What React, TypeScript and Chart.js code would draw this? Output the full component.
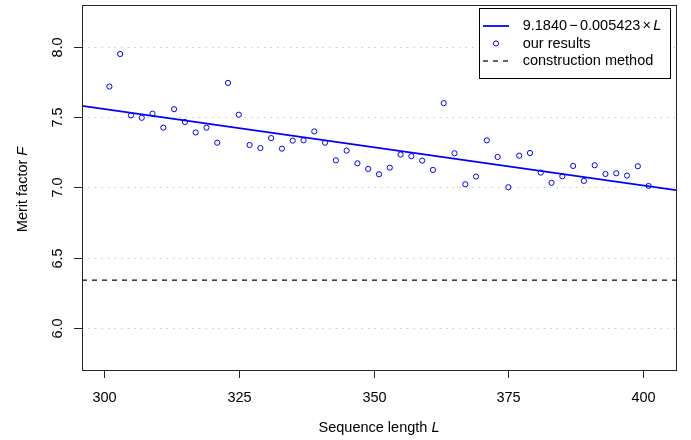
import React, { useEffect, useRef } from "react";
import { Chart, registerables } from "chart.js";

Chart.register(...registerables);

// ---- data ----
const lengths = [
  301, 303, 305, 307, 309, 311, 313, 315, 317, 319, 321, 323, 325, 327, 329, 331, 333,
  335, 337, 339, 341, 343, 345, 347, 349, 351, 353, 355, 357, 359, 361, 363, 365, 367,
  369, 371, 373, 375, 377, 379, 381, 383, 385, 387, 389, 391, 393, 395, 397, 399, 401,
];
const meritFactors = [
  7.717, 7.948, 7.512, 7.495, 7.524, 7.425, 7.556, 7.465, 7.391, 7.425, 7.318, 7.743, 7.517,
  7.302, 7.28, 7.351, 7.276, 7.333, 7.335, 7.398, 7.318, 7.193, 7.262, 7.172, 7.132, 7.094,
  7.141, 7.234, 7.222, 7.191, 7.125, 7.599, 7.243, 7.023, 7.078, 7.335, 7.217, 7.002, 7.226,
  7.245, 7.106, 7.033, 7.08, 7.153, 7.047, 7.158, 7.096, 7.101, 7.085, 7.151, 7.011,
];
const fitIntercept = 9.184;
const fitSlope = -0.005423;
const constructionMerit = 6.3421;
const xTicks = [300, 325, 350, 375, 400];
const yTicks = [6.0, 6.5, 7.0, 7.5, 8.0];
const xLimits = [295.92, 406.08];
const yLimits = [5.704, 8.296];

const legendFit = ["9.1840", "\u2212", "0.005423", "\u00d7", "L"];
const legendPoints = "our results";
const legendConstruction = "construction method";
const xTitle = ["Sequence length ", "L"];
const yTitle = ["Merit factor ", "F"];

const FONT_FAMILY = '"Liberation Sans", Arial, Helvetica, sans-serif';
const FS = 14.5;
const BLUE = "#0000ff";

const decorPlugin = {
  id: "rDecor",
  beforeDatasetsDraw(chart: any) {
    const { ctx, chartArea, scales } = chart;
    const y = scales.y;
    ctx.save();
    ctx.strokeStyle = "#c8c8c8";
    ctx.lineWidth = 1;
    ctx.setLineDash([1.5, 5]);
    for (const t of yTicks) {
      const py = Math.round(y.getPixelForValue(t)) + 0.5;
      ctx.beginPath();
      ctx.moveTo(chartArea.left, py);
      ctx.lineTo(chartArea.right, py);
      ctx.stroke();
    }
    ctx.restore();
  },
  afterDraw(chart: any) {
    const { ctx, chartArea, scales } = chart;
    const x = scales.x;
    const y = scales.y;
    const { left, right, top, bottom } = chartArea;
    ctx.save();
    // box
    ctx.strokeStyle = "#262626";
    ctx.lineWidth = 1;
    ctx.setLineDash([]);
    ctx.strokeRect(left + 0.5, top + 0.5, right - left, bottom - top);

    ctx.fillStyle = "#000";
    ctx.font = `${FS}px ${FONT_FAMILY}`;
    // x ticks
    ctx.textAlign = "center";
    ctx.textBaseline = "alphabetic";
    for (const t of xTicks) {
      const px = Math.round(x.getPixelForValue(t)) + 0.5;
      ctx.beginPath();
      ctx.moveTo(px, bottom);
      ctx.lineTo(px, bottom + 8);
      ctx.stroke();
      ctx.fillText(String(t), px, bottom + 31.5);
    }
    // y ticks
    for (const t of yTicks) {
      const py = Math.round(y.getPixelForValue(t)) + 0.5;
      ctx.beginPath();
      ctx.moveTo(left - 8, py);
      ctx.lineTo(left, py);
      ctx.stroke();
      ctx.save();
      ctx.translate(left - 20, py);
      ctx.rotate(-Math.PI / 2);
      ctx.textAlign = "center";
      ctx.fillText(t.toFixed(1), 0, 0);
      ctx.restore();
    }

    const drawMixed = (parts: string[], italicIdx: number[], cx: number, cy: number, rot: boolean) => {
      ctx.save();
      ctx.translate(cx, cy);
      if (rot) ctx.rotate(-Math.PI / 2);
      const fonts = parts.map((_, i) =>
        italicIdx.includes(i) ? `italic ${FS}px ${FONT_FAMILY}` : `${FS}px ${FONT_FAMILY}`
      );
      let total = 0;
      const widths = parts.map((p, i) => {
        ctx.font = fonts[i];
        const w = ctx.measureText(p).width;
        total += w;
        return w;
      });
      let sx = -total / 2;
      ctx.textAlign = "left";
      ctx.textBaseline = "alphabetic";
      parts.forEach((p, i) => {
        ctx.font = fonts[i];
        ctx.fillText(p, sx, 0);
        sx += widths[i];
      });
      ctx.restore();
    };
    const cxPlot = (left + right) / 2;
    const cyPlot = (top + bottom) / 2;
    drawMixed(xTitle, [1], cxPlot, 432, false);
    drawMixed(yTitle, [1], 27, cyPlot + 2, true);

    // legend
    const lx = 479.5, ly = 8.5, lw = 191, lh = 70;
    ctx.fillStyle = "#fff";
    ctx.fillRect(lx, ly, lw, lh);
    ctx.strokeStyle = "#000";
    ctx.lineWidth = 1;
    ctx.strokeRect(lx, ly, lw, lh);
    const rows = [26, 43.5, 61];
    const sx0 = 483, sx1 = 509, tx = 522.7;
    // row 1 line
    ctx.strokeStyle = BLUE;
    ctx.lineWidth = 1.8;
    ctx.beginPath();
    ctx.moveTo(sx0, rows[0]);
    ctx.lineTo(sx1, rows[0]);
    ctx.stroke();
    // row 2 circle
    ctx.lineWidth = 1;
    ctx.beginPath();
    ctx.arc((sx0 + sx1) / 2, rows[1], 2.6, 0, Math.PI * 2);
    ctx.stroke();
    // row 3 dashed
    ctx.strokeStyle = "#000";
    ctx.setLineDash([5, 5]);
    ctx.lineWidth = 1.2;
    ctx.beginPath();
    ctx.moveTo(sx0, rows[2]);
    ctx.lineTo(sx1 + 1, rows[2]);
    ctx.stroke();
    ctx.setLineDash([]);

    ctx.fillStyle = "#000";
    ctx.textAlign = "left";
    ctx.textBaseline = "middle";
    let cur = tx;
    const gap = 2.2;
    legendFit.forEach((p, i) => {
      ctx.font = i === legendFit.length - 1 ? `italic ${FS}px ${FONT_FAMILY}` : `${FS}px ${FONT_FAMILY}`;
      ctx.fillText(p, cur, rows[0]);
      cur += ctx.measureText(p).width + (i < legendFit.length - 1 ? gap : 0);
    });
    ctx.font = `${FS}px ${FONT_FAMILY}`;
    ctx.fillText(legendPoints, tx, rows[1]);
    ctx.fillText(legendConstruction, tx, rows[2]);
    ctx.restore();
  },
};

export default function App() {
  const canvasRef = useRef<HTMLCanvasElement | null>(null);

  useEffect(() => {
    const canvas = canvasRef.current;
    if (!canvas) return;
    const fitLine = xLimits.map((v) => ({ x: v, y: fitIntercept + fitSlope * v }));
    const constructionLine = xLimits.map((v) => ({ x: v, y: constructionMerit }));
    const points = lengths.map((l, i) => ({ x: l, y: meritFactors[i] }));

    const chart = new Chart(canvas, {
      type: "scatter",
      data: {
        datasets: [
          {
            label: "our results",
            data: points,
            pointStyle: "circle",
            pointRadius: 2.6,
            pointBorderWidth: 1,
            pointBackgroundColor: "rgba(0,0,0,0)",
            pointBorderColor: BLUE,
            borderColor: BLUE,
            backgroundColor: "rgba(0,0,0,0)",
            showLine: false,
          } as any,
          {
            label: "fit",
            data: fitLine,
            showLine: true,
            pointRadius: 0,
            borderColor: BLUE,
            borderWidth: 1.8,
          } as any,
          {
            label: "construction method",
            data: constructionLine,
            showLine: true,
            pointRadius: 0,
            borderColor: "#000",
            borderWidth: 1.2,
            borderDash: [5, 5],
          } as any,
        ],
      },
      options: {
        animation: false,
        responsive: false,
        maintainAspectRatio: false,
        layout: { padding: { left: 82, right: 15, top: 5, bottom: 70 } },
        plugins: {
          legend: { display: false },
          tooltip: { enabled: false },
        },
        scales: {
          x: { type: "linear", min: xLimits[0], max: xLimits[1], display: false },
          y: { type: "linear", min: yLimits[0], max: yLimits[1], display: false },
        },
        events: [],
      },
      plugins: [decorPlugin],
    });
    return () => chart.destroy();
  }, []);

  return (
    <div style={{ position: "fixed", left: 0, top: 0, width: 691, height: 440, background: "#fff" }}>
      <canvas ref={canvasRef} width={691} height={440} style={{ width: 691, height: 440 }} />
    </div>
  );
}
